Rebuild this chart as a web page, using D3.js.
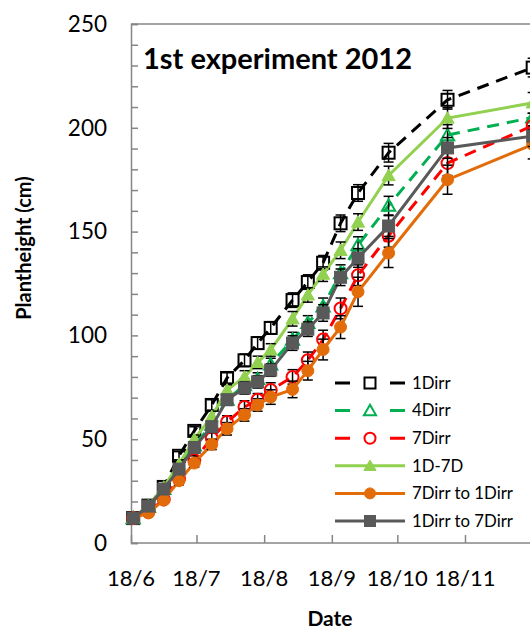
<!DOCTYPE html>
<html>
<head>
<meta charset="utf-8">
<script src="https://cdn.jsdelivr.net/npm/d3@7"></script>
<style>
  html, body { margin: 0; padding: 0; background: #fff; }
  svg { display: block; font-family: Lato, "Open Sans", sans-serif; }
</style>
</head>
<body>
<svg id="chart" width="530" height="630"></svg>
<script>
// Measurement dates (2012)
const dates = ["2012-06-19","2012-06-26","2012-07-03","2012-07-10","2012-07-17","2012-07-25",
  "2012-08-01","2012-08-09","2012-08-15","2012-08-21","2012-08-31","2012-09-07","2012-09-14",
  "2012-09-22","2012-09-30","2012-10-14","2012-11-10","2012-12-19"];

// Plant height (cm) per treatment
const h1Dirr      = [12, 18, 27, 42, 54, 66.5, 79.5, 88, 96.3, 103.6, 117, 125.7, 135, 154, 168.6, 188, 213.5, 229];
const h4Dirr      = [12, 17.5, 26, 36, 47, 57, 69, 76, 79, 86, 98, 106, 114, 130, 143.5, 162.5, 196.5, 205];
const h7Dirr      = [12, 15, 21, 31, 40, 50.5, 58.3, 65.5, 69, 73.7, 80, 88, 98, 113, 129, 148, 183, 201];
const h1D7D       = [12, 18, 27, 38, 50, 61, 73.7, 80, 87, 93, 108, 119.5, 129.5, 141, 154.6, 177, 204.7, 212];
const h7to1       = [12, 14.5, 20.7, 30, 38.5, 47.5, 55, 61.7, 66.5, 70.3, 74, 83, 93.2, 104, 121, 139.7, 175, 192];
const h1to7       = [12, 17.8, 26, 35.6, 46, 56, 69, 74.7, 77.6, 83.3, 96.3, 103, 110.8, 128, 137.3, 152.7, 190.3, 196];

// Standard errors (cm)
const e1Dirr = [1, 1, 1.5, 2, 2, 2.5, 2.5, 3, 3, 3, 3.5, 3.5, 3.5, 4, 4, 4.5, 4.5, 4.5];
const e4Dirr = [1, 1, 1.5, 2, 2, 2.5, 2.5, 3, 3, 3, 3.5, 3.5, 4, 4, 4, 4.5, 5, 5];
const e7Dirr = [1, 1, 1.5, 2, 2, 2.5, 3, 3, 3, 3.5, 3.5, 4, 4.5, 5, 5, 5.5, 6, 6];
const e1D7D  = [1, 1, 1.5, 2, 2, 2.5, 2.5, 3, 3, 3, 3.5, 3.5, 3.5, 4, 4, 4.5, 5, 5];
const e7to1  = [1, 1, 1.5, 2, 2, 2.5, 3, 3, 3, 3.5, 4, 4.5, 5, 5.5, 7, 7, 7, 7];
const e1to7  = [1, 1, 1.5, 2, 2, 2.5, 2.5, 3, 3, 3, 3.5, 3.5, 4, 4, 4.5, 5, 5, 5];

const seriesNames = ["1Dirr", "4Dirr", "7Dirr", "1D-7D", "7Dirr to 1Dirr", "1Dirr to 7Dirr"];
const tickDates = ["2012-06-18","2012-07-18","2012-08-18","2012-09-18","2012-10-18","2012-11-18"];
const tickLabels = ["18/6", "18/7", "18/8", "18/9", "18/10", "18/11"];
const yTicks = [0, 50, 100, 150, 200, 250];

const parse = d3.timeParse("%Y-%m-%d");

const series = [
  { name: seriesNames[0], values: h1Dirr, err: e1Dirr, color: "#000000", dash: "12,8", marker: "square", fill: false },
  { name: seriesNames[1], values: h4Dirr, err: e4Dirr, color: "#00B050", dash: "12,8", marker: "triangle", fill: false },
  { name: seriesNames[2], values: h7Dirr, err: e7Dirr, color: "#FF0000", dash: "12,8", marker: "circle", fill: false },
  { name: seriesNames[3], values: h1D7D, err: e1D7D, color: "#92D050", dash: null, marker: "triangle", fill: true },
  { name: seriesNames[4], values: h7to1, err: e7to1, color: "#E36C0A", dash: null, marker: "circle", fill: true },
  { name: seriesNames[5], values: h1to7, err: e1to7, color: "#595959", dash: null, marker: "square", fill: true }
];

const svg = d3.select("#chart");
const axisColor = "#868686";

// Date axis: 18 June .. 18 Nov spans the tick range; plot runs on past the right edge
const x = d3.scaleTime()
  .domain([parse("2012-06-18"), parse("2012-11-18")])
  .range([131, 465]);
const y = d3.scaleLinear().domain([0, 250]).range([543, 24]);

// Plot area frame (top edge and left/bottom axes)
svg.append("line").attr("x1", x.range()[0]).attr("x2", 560)
  .attr("y1", y(250)).attr("y2", y(250))
  .attr("stroke", axisColor).attr("stroke-width", 1.5);

// Y axis with inside ticks every 10 cm, labels every 50
const yAxis = d3.axisRight(y).tickValues(d3.range(0, 251, 10)).tickSize(7).tickFormat("");
const gy = svg.append("g").attr("transform", `translate(${x.range()[0]},0)`).call(yAxis);
gy.select(".domain").attr("stroke", axisColor).attr("stroke-width", 1.5);
gy.selectAll(".tick line").attr("stroke", axisColor).attr("stroke-width", 1.5);

svg.append("g").selectAll("text").data(yTicks).join("text")
  .attr("x", 107).attr("y", d => y(d)).attr("dy", "0.35em")
  .attr("text-anchor", "end").attr("font-size", 22.5).attr("fill", "#000")
  .text(d => d);

// X axis with inside monthly ticks
const xAxis = d3.axisTop(x).tickValues(tickDates.map(parse)).tickSize(8).tickFormat("");
const gx = svg.append("g").attr("transform", `translate(0,${y(0)})`).call(xAxis);
gx.select(".domain").attr("stroke", axisColor).attr("stroke-width", 1.5)
  .attr("d", `M${x.range()[0]},0H560`);
gx.selectAll(".tick line").attr("stroke", axisColor).attr("stroke-width", 1.5);

svg.append("g").selectAll("text").data(tickDates).join("text")
  .attr("x", d => x(parse(d))).attr("y", 586)
  .attr("text-anchor", "middle").attr("font-size", 22).attr("fill", "#000")
  .text((d, i) => tickLabels[i]);

// Axis titles
svg.append("text").attr("x", 330).attr("y", 626).attr("text-anchor", "middle")
  .attr("font-size", 21).attr("font-weight", "bold").text("Date");
svg.append("text").attr("transform", "translate(31,248) rotate(-90)")
  .attr("text-anchor", "middle").attr("font-size", 20).attr("font-weight", "bold")
  .text("Plantheight (cm)");

// Chart title
svg.append("text").attr("x", 143).attr("y", 69).attr("font-size", 29)
  .attr("font-weight", "bold").text("1st experiment 2012");

// Marker drawing helper
function drawMarker(sel, s, size) {
  const sw = s.fill ? 1 : 2;
  const common = m => m.attr("fill", s.fill ? s.color : "none")
    .attr("stroke", s.color).attr("stroke-width", sw);
  if (s.marker === "square") {
    common(sel.append("rect").attr("x", -size / 2).attr("y", -size / 2)
      .attr("width", size).attr("height", size));
  } else if (s.marker === "circle") {
    common(sel.append("circle").attr("r", size / 2));
  } else {
    const r = size / 2;
    common(sel.append("path").attr("d", `M0,${-r * 1.05}L${r * 1.1},${r * 0.85}L${-r * 1.1},${r * 0.85}Z`));
  }
}

const line = d3.line().x(d => x(parse(d.date))).y(d => y(d.v));
const plotLayer = svg.append("g");

series.forEach(s => {
  const pts = s.values.map((v, i) => ({ date: dates[i], v, e: s.err[i] }));
  const g = plotLayer.append("g");
  g.append("path").datum(pts).attr("d", line)
    .attr("fill", "none").attr("stroke", s.color).attr("stroke-width", 3)
    .attr("stroke-dasharray", s.dash);
  // error bars
  const eb = g.append("g").selectAll("g").data(pts).join("g")
    .attr("transform", d => `translate(${x(parse(d.date))},0)`);
  eb.append("line").attr("y1", d => y(d.v - d.e)).attr("y2", d => y(d.v + d.e))
    .attr("stroke", "#000").attr("stroke-width", 1.5);
  eb.append("line").attr("x1", -5).attr("x2", 5).attr("y1", d => y(d.v + d.e)).attr("y2", d => y(d.v + d.e))
    .attr("stroke", "#000").attr("stroke-width", 1.5);
  eb.append("line").attr("x1", -5).attr("x2", 5).attr("y1", d => y(d.v - d.e)).attr("y2", d => y(d.v - d.e))
    .attr("stroke", "#000").attr("stroke-width", 1.5);
  // markers
  g.append("g").selectAll("g").data(pts).join("g")
    .attr("transform", d => `translate(${x(parse(d.date))},${y(d.v)})`)
    .each(function () { drawMarker(d3.select(this), s, 12); });
});

// Legend
const legend = svg.append("g").attr("transform", "translate(335,383)");
series.forEach((s, i) => {
  const row = legend.append("g").attr("transform", `translate(0,${i * 27.6})`);
  row.append("line").attr("x1", 0).attr("x2", 70)
    .attr("stroke", s.color).attr("stroke-width", 3)
    .attr("stroke-dasharray", s.dash ? "15,40,15" : null);
  const m = row.append("g").attr("transform", "translate(35,0)");
  drawMarker(m, s, 11);
  row.append("text").attr("x", 77).attr("y", 0).attr("dy", "0.35em")
    .attr("font-size", 16.8).attr("fill", "#000").text(s.name);
});
</script>
</body>
</html>
